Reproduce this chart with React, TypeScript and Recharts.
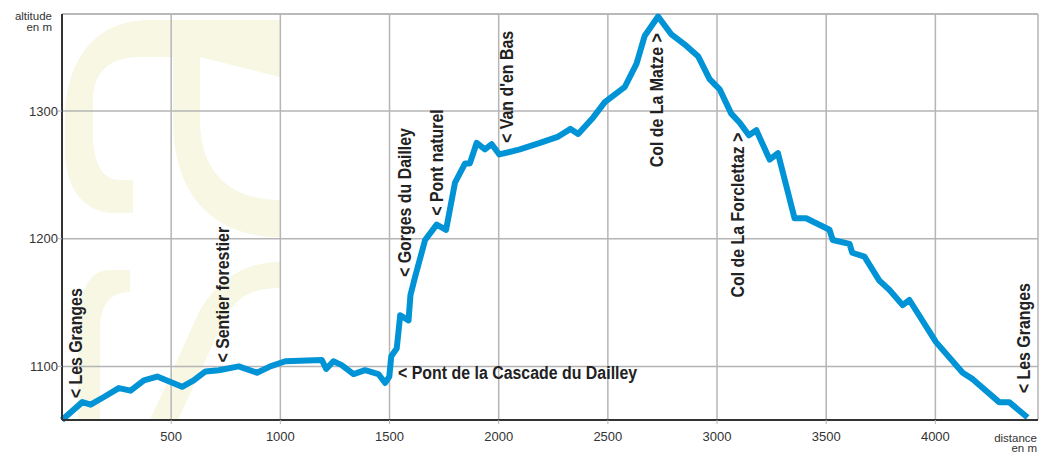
import React from "react";
import {
    LineChart,
    Line,
    XAxis,
    YAxis,
    CartesianGrid,
    ReferenceLine,
    ReferenceDot,
} from "recharts";

// distance (m) and altitude (m) along the trail
const distances = [
    0, 93, 131, 192, 260, 314, 375, 436, 550, 603, 657, 718, 809, 893, 954, 1023,
    1190, 1210, 1243, 1281, 1335, 1388, 1449, 1480, 1499, 1508, 1533, 1549, 1587,
    1596, 1617, 1663, 1716, 1759, 1800, 1846, 1868, 1899, 1937, 1968, 2003, 2097,
    2189, 2273, 2329, 2364, 2433, 2486, 2578, 2631, 2669, 2730, 2791, 2860, 2913,
    2966, 3012, 3065, 3103, 3146, 3180, 3241, 3279, 3355, 3408, 3515, 3530, 3607,
    3619, 3675, 3744, 3789, 3850, 3881, 4003, 4125, 4171, 4292, 4338, 4422,
];
const altitudes = [
    1058, 1072, 1070, 1076, 1083, 1081, 1089, 1092, 1084, 1089, 1096, 1097, 1100,
    1095, 1100, 1104, 1105, 1098, 1104, 1101, 1094, 1097, 1094, 1087, 1092, 1108,
    1114, 1140, 1136, 1156, 1170, 1199, 1211, 1207, 1244, 1259, 1259, 1275, 1270,
    1274, 1266, 1270, 1275, 1280, 1286, 1282, 1295, 1307, 1319, 1337, 1359, 1374,
    1360, 1351, 1343, 1325, 1317, 1298, 1291, 1281, 1285, 1262, 1267, 1216, 1216,
    1207, 1199, 1196, 1189, 1186, 1167, 1160, 1148, 1152, 1119, 1095, 1090, 1072,
    1072, 1060,
];

const xTicks = [500, 1000, 1500, 2000, 2500, 3000, 3500, 4000];
const yTicks = [1100, 1200, 1300];
const xMax = 4470;
const yMin = 1058;
const yMax = 1376;

// place names: text, distance, altitude where the text starts, rotated or not
const placeNames = ["< Les Granges", "< Sentier forestier", "< Gorges du Dailley", "< Pont naturel", "< Van d'en Bas", "Col de La Matze >", "Col de La Forclettaz >", "< Les Granges", "< Pont de la Cascade du Dailley"];
const placeDist = [60, 733, 1567, 1713, 2037, 2724, 3092, 4402, 1539];
const placeAlt = [1075, 1103, 1170, 1218, 1275, 1256, 1154, 1079, 1095];
const placeVertical = [true, true, true, true, true, true, true, true, false];

const profile = distances.map((d, i) => ({ d, alt: altitudes[i] }));
const places = placeNames.map((name, i) => ({
    name,
    d: placeDist[i],
    alt: placeAlt[i],
    vertical: placeVertical[i],
}));

const labelFont = "'Liberation Sans', Arial, sans-serif";

function PlaceLabel({ cx, cy, text, vertical }: any) {
    const t = vertical
        ? `translate(${cx},${cy}) rotate(-90) scale(0.86,1)`
        : `translate(${cx},${cy}) scale(0.86,1)`;
    return (
        <text
            transform={t}
            x={0}
            y={0}
            dy="0.36em"
            textAnchor="start"
            fontFamily={labelFont}
            fontWeight="bold"
            fontSize={18.5}
            fill="#222"
        >
            {text}
        </text>
    );
}

function Watermark() {
    return (
        <svg
            width={1049}
            height={455}
            style={{ position: "absolute", left: 0, top: 0 }}
        >
            <g fill="#f7f7e4">
                <path d="M280 20 L150 20 C95 20 65 60 65 120 L65 150 C65 190 85 213 115 213 L133 213 L133 180 L120 180 C102 180 93 162 93 135 L93 100 C93 72 110 57 140 57 L200 57 L280 77 Z" />
                <path d="M173 57 L200 57 L200 120 C200 172 230 200 280 200 L280 237 C210 237 173 192 173 120 Z" />
                <path d="M130 270 L110 270 C90 270 78 290 78 330 L78 420 L100 420 L100 330 C100 305 110 292 130 292 Z" />
                <path d="M280 262 C240 262 215 285 200 310 L150 420 L178 420 L225 318 C238 295 255 288 280 288 Z" />
            </g>
            <g fontFamily={labelFont} fontSize={11.5} fill="#333" textAnchor="end">
                <text x={52} y={20}>altitude</text>
                <text x={52} y={31}>en m</text>
                <text x={1037} y={442}>distance</text>
                <text x={1037} y={452}>en m</text>
            </g>
        </svg>
    );
}

export default function App() {
    return (
        <div style={{ position: "absolute", left: 0, top: 0, width: 1049, height: 455, background: "#fff" }}>
            <Watermark />
            <div style={{ position: "absolute", left: 0, top: 0 }}>
                <LineChart
                    width={1049}
                    height={455}
                    data={profile}
                    margin={{ top: 14, right: 11, bottom: 0, left: 0 }}
                >
                    <CartesianGrid stroke="#b5b5b5" strokeWidth={1.5} />
                    <ReferenceLine y={yMax} stroke="#b5b5b5" strokeWidth={1.5} />
                    <XAxis
                        dataKey="d"
                        type="number"
                        domain={[0, xMax]}
                        ticks={xTicks}
                        height={35}
                        axisLine={{ stroke: "#333", strokeWidth: 2 }}
                        tickLine={{ stroke: "#b5b5b5" }}
                        tickSize={4}
                        tickMargin={8}
                        tick={{ fill: "#333", fontSize: 13, fontFamily: labelFont }}
                    />
                    <YAxis
                        type="number"
                        domain={[yMin, yMax]}
                        ticks={yTicks}
                        width={62}
                        axisLine={{ stroke: "#333", strokeWidth: 2 }}
                        tickLine={{ stroke: "#b5b5b5" }}
                        tickSize={4}
                        tickMargin={0}
                        tick={{ fill: "#333", fontSize: 13, fontFamily: labelFont }}
                    />
                    <Line
                        dataKey="alt"
                        type="linear"
                        stroke="#0093d6"
                        strokeWidth={6}
                        strokeLinejoin="round"
                        dot={false}
                        isAnimationActive={false}
                    />
                    {places.map((p, i) => (
                        <ReferenceDot
                            key={i}
                            x={p.d}
                            y={p.alt}
                            r={1}
                            shape={(s: any) => (
                                <PlaceLabel cx={s.cx} cy={s.cy} text={p.name} vertical={p.vertical} />
                            )}
                        />
                    ))}
                </LineChart>
            </div>
        </div>
    );
}
